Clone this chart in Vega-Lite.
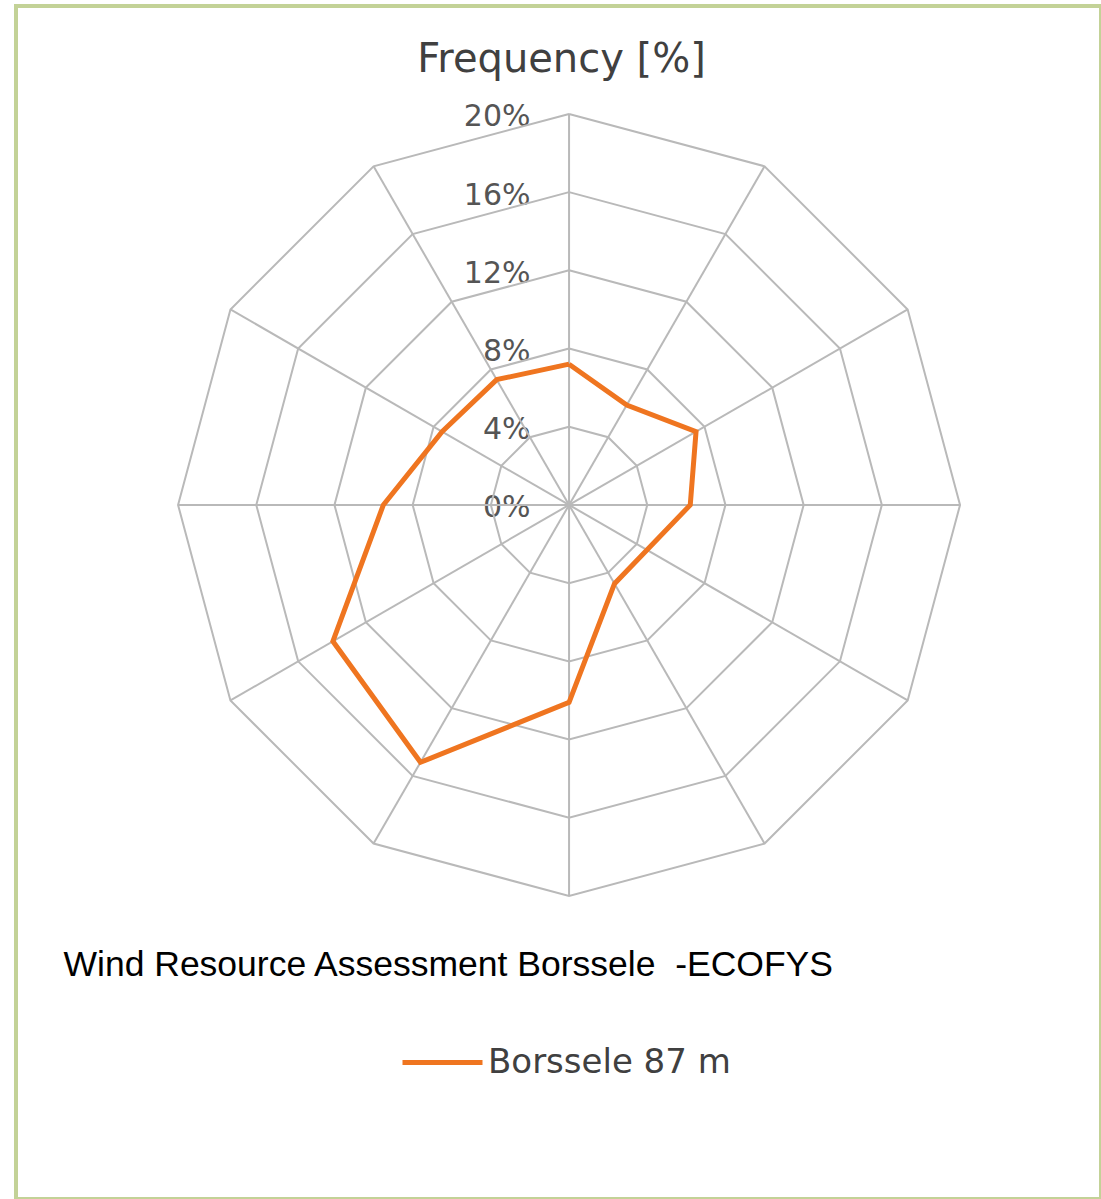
{
  "$schema": "https://vega.github.io/schema/vega-lite/v6.json",
  "width": 1085,
  "height": 1193,
  "autosize": {"type": "none"},
  "padding": {"left": 16, "top": 6, "right": 0, "bottom": 0},
  "background": "white",
  "title": {
    "text": "Frequency [%]",
    "frame": "group",
    "anchor": "middle",
    "offset": -74,
    "dx": 3,
    "font": "DejaVu Sans",
    "fontSize": 40,
    "fontWeight": "normal",
    "color": "#404040"
  },
  "config": {
    "view": {"stroke": "#c3d297", "strokeWidth": 4},
    "axisX": {
      "domain": false,
      "ticks": false,
      "labels": false,
      "grid": false,
      "titleFont": "Liberation Sans",
      "titleFontSize": 35.5,
      "titleFontWeight": "normal",
      "titleColor": "#000000",
      "titleAnchor": "start",
      "titleAlign": "left",
      "titleBaseline": "alphabetic",
      "titleX": 47,
      "titleY": -224
    },
    "axisY": {
      "offset": -514,
      "domain": false,
      "ticks": false,
      "tickSize": 0,
      "labelPadding": 0,
      "labelAlign": "right",
      "labelBaseline": "middle",
      "labelOffset": 3,
      "labelFont": "DejaVu Sans",
      "labelFontSize": 30,
      "labelColor": "#555555",
      "grid": false,
      "zindex": 1
    },
    "legend": {
      "orient": "none",
      "legendX": 384,
      "legendY": 1014,
      "padding": 0,
      "symbolType": "stroke",
      "symbolSize": 6400,
      "symbolStrokeWidth": 5,
      "labelFont": "DejaVu Sans",
      "labelFontSize": 34,
      "labelColor": "#404040",
      "labelOffset": 3,
      "labelLimit": 500
    }
  },
  "datasets": {
    "rings": [
      {"ring": 4, "angles": [0, 30, 60, 90, 120, 150, 180, 210, 240, 270, 300, 330, 360]},
      {"ring": 8, "angles": [0, 30, 60, 90, 120, 150, 180, 210, 240, 270, 300, 330, 360]},
      {"ring": 12, "angles": [0, 30, 60, 90, 120, 150, 180, 210, 240, 270, 300, 330, 360]},
      {"ring": 16, "angles": [0, 30, 60, 90, 120, 150, 180, 210, 240, 270, 300, 330, 360]},
      {"ring": 20, "angles": [0, 30, 60, 90, 120, 150, 180, 210, 240, 270, 300, 330, 360]}
    ],
    "spokes": [
      {"angle": 0, "inner": 0, "outer": 20},
      {"angle": 30, "inner": 0, "outer": 20},
      {"angle": 60, "inner": 0, "outer": 20},
      {"angle": 90, "inner": 0, "outer": 20},
      {"angle": 120, "inner": 0, "outer": 20},
      {"angle": 150, "inner": 0, "outer": 20},
      {"angle": 180, "inner": 0, "outer": 20},
      {"angle": 210, "inner": 0, "outer": 20},
      {"angle": 240, "inner": 0, "outer": 20},
      {"angle": 270, "inner": 0, "outer": 20},
      {"angle": 300, "inner": 0, "outer": 20},
      {"angle": 330, "inner": 0, "outer": 20}
    ],
    "wind": [
      {"series": "Borssele 87 m", "direction": 0, "frequency": 7.2},
      {"series": "Borssele 87 m", "direction": 30, "frequency": 5.9},
      {"series": "Borssele 87 m", "direction": 60, "frequency": 7.5},
      {"series": "Borssele 87 m", "direction": 90, "frequency": 6.2},
      {"series": "Borssele 87 m", "direction": 120, "frequency": 4.6},
      {"series": "Borssele 87 m", "direction": 150, "frequency": 4.65},
      {"series": "Borssele 87 m", "direction": 180, "frequency": 10.1},
      {"series": "Borssele 87 m", "direction": 210, "frequency": 15.2},
      {"series": "Borssele 87 m", "direction": 240, "frequency": 13.95},
      {"series": "Borssele 87 m", "direction": 270, "frequency": 9.5},
      {"series": "Borssele 87 m", "direction": 300, "frequency": 7.5},
      {"series": "Borssele 87 m", "direction": 330, "frequency": 7.4},
      {"series": "Borssele 87 m", "direction": 360, "frequency": 7.2}
    ]
  },
  "layer": [
    {
      "data": {"name": "rings"},
      "transform": [
        {"flatten": ["angles"], "as": ["angle"]},
        {"calculate": "datum.ring * sin(datum.angle * PI / 180)", "as": "px"},
        {"calculate": "datum.ring * cos(datum.angle * PI / 180)", "as": "py"}
      ],
      "mark": {"type": "line", "color": "#b9b9b9", "strokeWidth": 2},
      "encoding": {
        "x": {
          "field": "px",
          "type": "quantitative",
          "title": "Wind Resource Assessment Borssele\u00a0 -ECOFYS",
          "scale": {"domain": [-28.29, 27.21], "nice": false, "zero": false}
        },
        "y": {
          "field": "py",
          "type": "quantitative",
          "title": null,
          "scale": {"domain": [-35.5, 25.52], "nice": false, "zero": false},
          "axis": {"values": [0, 4, 8, 12, 16, 20], "labelExpr": "datum.value + '%'"}
        },
        "detail": {"field": "ring", "type": "nominal"},
        "order": {"field": "angle", "type": "quantitative"}
      }
    },
    {
      "data": {"name": "spokes"},
      "transform": [
        {"calculate": "datum.inner * sin(datum.angle * PI / 180)", "as": "x1"},
        {"calculate": "datum.inner * cos(datum.angle * PI / 180)", "as": "y1"},
        {"calculate": "datum.outer * sin(datum.angle * PI / 180)", "as": "x2"},
        {"calculate": "datum.outer * cos(datum.angle * PI / 180)", "as": "y2"}
      ],
      "mark": {"type": "rule", "color": "#b9b9b9", "strokeWidth": 2},
      "encoding": {
        "x": {"field": "x1", "type": "quantitative", "title": "Wind Resource Assessment Borssele\u00a0 -ECOFYS"},
        "y": {"field": "y1", "type": "quantitative", "title": null},
        "x2": {"field": "x2"},
        "y2": {"field": "y2"}
      }
    },
    {
      "data": {"name": "wind"},
      "transform": [
        {"calculate": "datum.frequency * sin(datum.direction * PI / 180)", "as": "px"},
        {"calculate": "datum.frequency * cos(datum.direction * PI / 180)", "as": "py"}
      ],
      "mark": {"type": "line", "strokeWidth": 5, "strokeJoin": "miter"},
      "encoding": {
        "x": {"field": "px", "type": "quantitative", "title": "Wind Resource Assessment Borssele\u00a0 -ECOFYS"},
        "y": {"field": "py", "type": "quantitative", "title": null},
        "order": {"field": "direction", "type": "quantitative"},
        "color": {
          "field": "series",
          "type": "nominal",
          "scale": {"range": ["#ef7520"]},
          "legend": {"title": null}
        }
      }
    }
  ]
}
